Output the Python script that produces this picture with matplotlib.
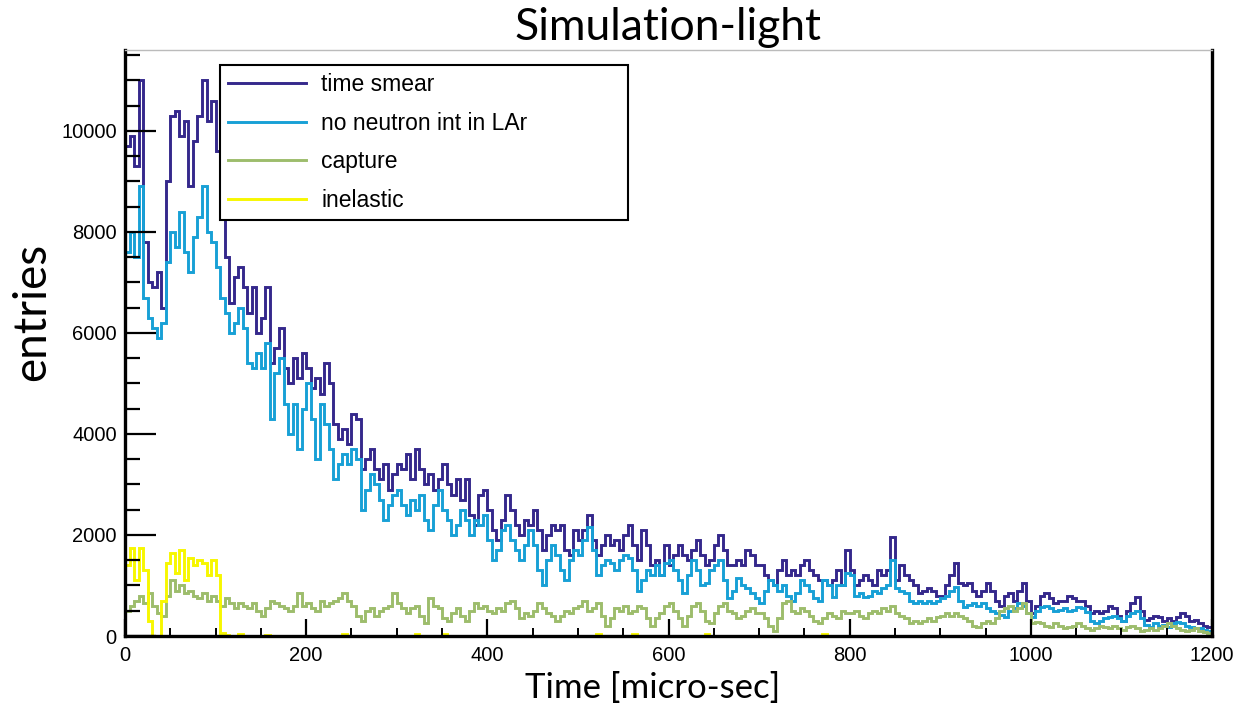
import numpy as np
import matplotlib
matplotlib.use("Agg")
import matplotlib.pyplot as plt
from matplotlib.ticker import MultipleLocator

# ---------------- data (5 micro-sec bins, 0..1200) ----------------
BIN = 5
T_MAX = 1200

time_smear = [
    9700, 9900, 9300, 11000, 7800, 7000, 6900, 7200, 6500, 9000, 10300, 10400, 9900, 10200, 8900, 9800, 10300, 11000, 10200, 10600,
    9600, 8300, 7500, 6600, 7100, 7300, 6900, 6400, 6900, 6000, 6300, 6900, 5400, 5700, 6100, 5300, 5000, 5500, 5100, 5600,
    5300, 4900, 5100, 4800, 5400, 5000, 4200, 3900, 4100, 3800, 4400, 4300, 3300, 3500, 3700, 3300, 3100, 3400, 2900, 3200,
    3400, 3300, 3600, 3100, 3700, 3300, 3000, 3200, 2900, 3100, 3400, 3000, 2800, 3100, 2700, 3100, 2400, 2200, 2800, 2900,
    2500, 2100, 1900, 2300, 2800, 2500, 2200, 2000, 2300, 2200, 2500, 2100, 1700, 2000, 2200, 2100, 2200, 1700, 1600, 2100,
    1900, 2100, 2400, 1900, 1600, 1800, 2000, 1800, 1900, 1700, 2000, 2200, 1800, 1500, 2100, 1800, 1400, 1500, 1200, 1800,
    1400, 1600, 1800, 1600, 1500, 1700, 1900, 1600, 1400, 1500, 1800, 2000, 1700, 1400, 1400, 1500, 1400, 1700, 1600, 1400,
    1400, 1200, 1100, 1000, 1300, 1500, 1200, 1300, 1200, 1400, 1500, 1300, 1200, 1100, 1100, 1000, 1100, 1300, 1000, 1700,
    1300, 1000, 1100, 1200, 1100, 1000, 1300, 1200, 1300, 1950, 1100, 1400, 1200, 1100, 1000, 850, 900, 950, 900, 800,
    800, 1000, 1200, 1450, 1050, 1000, 1050, 900, 800, 900, 1050, 900, 700, 600, 800, 850, 700, 900, 1050, 700,
    450, 600, 800, 850, 750, 650, 700, 700, 800, 750, 700, 700, 600, 450, 500, 450, 500, 600, 550, 400,
    300, 500, 650, 780, 500, 320, 350, 400, 380, 300, 350, 300, 380, 450, 400, 300, 320, 250, 200, 180,
]

no_neutron = [
    7600, 8000, 7500, 8900, 6700, 6300, 6100, 5900, 6200, 7400, 8000, 7700, 8400, 7600, 7200, 7900, 8300, 8900, 8000, 7800,
    7300, 6700, 6400, 6000, 6200, 6500, 6100, 5400, 5300, 5600, 5300, 5800, 4300, 5200, 5500, 4600, 4000, 4600, 3700, 4500,
    5000, 4300, 3500, 4600, 4200, 3700, 3100, 3400, 3600, 3400, 3700, 3500, 2500, 2900, 3200, 3000, 2700, 2300, 2600, 2800,
    2900, 2600, 2400, 2700, 2500, 2800, 2300, 2100, 2600, 2900, 2500, 2300, 2000, 2200, 2500, 2300, 2000, 2300, 2200, 2400,
    1900, 1500, 1700, 2100, 2200, 1900, 1700, 1500, 1800, 2100, 1800, 1300, 1000, 1500, 1800, 1600, 1300, 1100, 1500, 1700,
    1600, 1900, 2150, 1700, 1200, 1400, 1500, 1450, 1300, 1500, 1600, 1550, 1300, 900, 1100, 1300, 1200, 1400, 1200, 1450,
    1500, 1300, 1100, 850, 1200, 1500, 1300, 1000, 1050, 1300, 1400, 1500, 1100, 750, 900, 1150, 1000, 950, 850, 750,
    650, 900, 1100, 1000, 900, 1000, 800, 700, 850, 1100, 1000, 900, 750, 700, 1100, 1000, 780, 1000, 1000, 1250,
    1200, 800, 850, 780, 800, 900, 850, 950, 1000, 1500, 950, 900, 850, 700, 650, 700, 650, 700, 650, 700,
    750, 800, 900, 970, 700, 580, 620, 650, 600, 650, 550, 500, 450, 420, 380, 500, 550, 650, 600, 450,
    380, 500, 580, 600, 550, 500, 520, 550, 500, 520, 580, 550, 480, 300, 250, 300, 350, 380, 400, 350,
    300, 400, 450, 500, 350, 220, 180, 250, 200, 220, 180, 250, 280, 250, 200, 180, 150, 150, 120, 100,
]

capture = [
    500, 600, 700, 800, 650, 850, 600, 450, 400, 800, 1100, 900, 1000, 850, 900, 800, 750, 850, 700, 800,
    700, 600, 750, 650, 550, 650, 600, 550, 650, 500, 400, 550, 700, 650, 600, 550, 500, 600, 850, 600,
    650, 550, 500, 700, 600, 650, 700, 750, 850, 700, 600, 400, 300, 500, 550, 400, 500, 550, 600, 850,
    650, 550, 450, 550, 600, 400, 250, 750, 600, 550, 350, 300, 450, 550, 400, 300, 500, 650, 550, 600,
    500, 450, 550, 500, 650, 700, 550, 350, 450, 400, 500, 650, 550, 450, 400, 300, 400, 500, 450, 550,
    600, 700, 500, 550, 650, 400, 200, 350, 550, 500, 600, 450, 500, 600, 550, 350, 200, 350, 450, 600,
    650, 500, 350, 200, 400, 600, 650, 500, 300, 250, 450, 600, 650, 500, 450, 350, 400, 500, 550, 450,
    450, 350, 200, 100, 350, 650, 700, 500, 450, 550, 500, 400, 300, 250, 350, 450, 400, 350, 500, 450,
    450, 500, 400, 350, 450, 500, 450, 550, 500, 600, 450, 400, 350, 250, 300, 250, 300, 350, 300, 380,
    400, 450, 400, 450, 400, 350, 300, 200, 180, 250, 300, 250, 350, 500, 550, 600, 500, 550, 650, 450,
    250, 280, 250, 200, 180, 250, 200, 150, 180, 200, 250, 200, 150, 120, 150, 200, 180, 150, 200, 150,
    120, 180, 200, 150, 100, 120, 150, 120, 150, 200, 250, 200, 150, 120, 100, 120, 150, 100, 80, 60,
]

inelastic = [
    1400, 1750, 1100, 1750, 1300, 300, 0, 0, 700, 1450, 1650, 1250, 1700, 1100, 1550, 1400, 1500, 1450, 1200, 1500,
    1200, 50, 20, 0, 0, 30, 0, 0, 0, 0, 0, 20, 0, 0, 0, 0, 0, 0, 0, 0,
    0, 0, 0, 0, 0, 0, 0, 0, 30, 0, 0, 0, 0, 0, 0, 0, 0, 0, 0, 0,
    0, 0, 0, 0, 40, 0, 0, 0, 0, 0, 30, 0, 0, 0, 0, 0, 0, 0, 0, 0,
    0, 0, 0, 0, 0, 0, 0, 0, 0, 0, 0, 0, 0, 0, 0, 0, 0, 0, 0, 0,
    0, 0, 0, 0, 40, 0, 0, 0, 0, 0, 0, 0, 30, 0, 0, 0, 0, 0, 0, 0,
    0, 0, 0, 0, 0, 0, 0, 0, 30, 0, 0, 0, 0, 0, 0, 0, 0, 0, 0, 0,
    0, 0, 0, 0, 0, 0, 0, 0, 0, 0, 0, 0, 0, 0, 40, 0, 0, 0, 0, 0,
    0, 0, 0, 0, 0, 0, 0, 0, 0, 0, 0, 0, 0, 0, 0, 0, 0, 0, 0, 0,
    0, 0, 0, 0, 0, 0, 0, 0, 0, 0, 0, 0, 0, 0, 0, 0, 0, 0, 0, 0,
    0, 0, 0, 0, 0, 0, 0, 0, 0, 0, 0, 0, 0, 0, 0, 0, 0, 0, 0, 0,
    0, 0, 0, 0, 0, 0, 0, 0, 0, 0, 0, 0, 0, 0, 0, 0, 0, 0, 0, 0,
]

labels = ["time smear", "no neutron int in LAr", "capture", "inelastic"]
colors = ["#35288c", "#18a0d6", "#9dbd6c", "#f7f700"]
x_ticks = [0, 200, 400, 600, 800, 1000, 1200]
y_ticks = [0, 2000, 4000, 6000, 8000, 10000]

# ---------------- figure ----------------
W, H = 1237, 705
fig = plt.figure(figsize=(W / 100, H / 100), dpi=100)
ax = fig.add_axes([125 / W, 1 - 636 / H, (1212 - 125) / W, (636 - 50) / H])

edges = np.arange(0, T_MAX + BIN, BIN)
for vals, lab, col in zip([time_smear, no_neutron, capture, inelastic], labels, colors):
    ax.stairs(vals, edges, baseline=None, color=col, lw=2.1, label=lab)

ax.set_xlim(0, T_MAX)
ax.set_ylim(0, 11600)
ax.set_xticks(x_ticks)
ax.set_yticks(y_ticks)
ax.xaxis.set_minor_locator(MultipleLocator(50))
ax.yaxis.set_minor_locator(MultipleLocator(500))
tick_font = dict(family="Liberation Sans", size=14.5)
ax.set_xticklabels([str(v) for v in x_ticks], **tick_font)
ax.set_yticklabels([str(v) for v in y_ticks], **tick_font)
ax.tick_params(axis="y", which="major", direction="in", length=22, width=1.6, pad=6)
ax.tick_params(axis="y", which="minor", direction="in", length=11, width=1.6)
ax.tick_params(axis="x", which="major", direction="in", length=12, width=1.6, pad=7)
ax.tick_params(axis="x", which="minor", direction="in", length=6, width=1.4)

for s in ["left", "bottom"]:
    ax.spines[s].set_linewidth(2.4)
ax.spines["right"].set_linewidth(2.4)
ax.spines["top"].set_linewidth(1.0)
ax.spines["top"].set_color("#bbbbbb")

leg_top = (636 - 65) / 586
leg = ax.legend(loc="upper left", bbox_to_anchor=((220 - 125) / 1087, leg_top, (628 - 220) / 1087, 0.0),
                mode="expand", prop=dict(family="Liberation Sans", size=16.5), frameon=True, fancybox=False,
                handlelength=3.4, handletextpad=0.65, labelspacing=0.67, borderpad=0.37, borderaxespad=0)
leg.get_frame().set_edgecolor("black")
leg.get_frame().set_linewidth(1.5)
leg.get_frame().set_alpha(1)

fig.text(668 / W, 1 - 28 / H, "Simulation-light", family="Lato", size=32, ha="center", va="center")
fig.text(653 / W, 1 - 688 / H, "Time [micro-sec]", family="Lato", size=25, ha="center", va="center")
fig.text(32 / W, 1 - 312 / H, "entries", family="Lato", size=33, ha="center", va="center", rotation=90)

fig.savefig("out.png", dpi=100)
